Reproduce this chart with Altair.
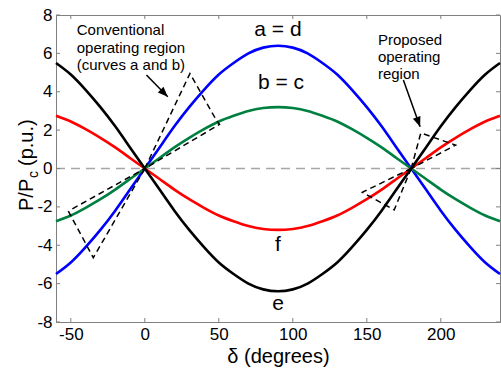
import altair as alt
import pandas as pd

# Load angle (degrees) at which the power curves are sampled
delta = [-60, -50, -40, -30, -20, -10, 0, 10, 20, 30, 40, 50, 60, 70, 80, 90,
         100, 110, 120, 130, 140, 150, 160, 170, 180, 190, 200, 210, 220, 230, 240]

# P/Pc for each curve (p.u.)
curve_ad = [-5.5, -4.9, -4.1, -3.2, -2.2, -1.1, 0.0, 1.1, 2.2, 3.2, 4.1, 4.9, 5.5, 6.0, 6.3, 6.4,
            6.3, 6.0, 5.5, 4.9, 4.1, 3.2, 2.2, 1.1, 0.0, -1.1, -2.2, -3.2, -4.1, -4.9, -5.5]
curve_bc = [-2.75, -2.45, -2.05, -1.6, -1.1, -0.55, 0.0, 0.55, 1.1, 1.6, 2.05, 2.45, 2.75, 3.0, 3.15, 3.2,
            3.15, 3.0, 2.75, 2.45, 2.05, 1.6, 1.1, 0.55, 0.0, -0.55, -1.1, -1.6, -2.05, -2.45, -2.75]
curve_f = [2.75, 2.45, 2.05, 1.6, 1.1, 0.55, 0.0, -0.55, -1.1, -1.6, -2.05, -2.45, -2.75, -3.0, -3.15, -3.2,
           -3.15, -3.0, -2.75, -2.45, -2.05, -1.6, -1.1, -0.55, 0.0, 0.55, 1.1, 1.6, 2.05, 2.45, 2.75]
curve_e = [5.5, 4.9, 4.1, 3.2, 2.2, 1.1, 0.0, -1.1, -2.2, -3.2, -4.1, -4.9, -5.5, -6.0, -6.3, -6.4,
           -6.3, -6.0, -5.5, -4.9, -4.1, -3.2, -2.2, -1.1, 0.0, 1.1, 2.2, 3.2, 4.1, 4.9, 5.5]

series_names = ["a = d", "b = c", "f", "e"]
series_colors = ["#0000ff", "#008040", "#ff0000", "#000000"]

# Dashed operating-region outlines (closed polygons)
conv_up_x = [0, 30.5, 48.5, 50.5, 0]
conv_up_y = [0, 4.95, 2.5, 2.3, 0]
conv_lo_x = [0, -34.8, -51.5, -50.0, 0]
conv_lo_y = [0, -4.65, -2.25, -2.15, 0]
prop_up_x = [180, 186.5, 210, 180]
prop_up_y = [0, 1.85, 1.22, 0]
prop_lo_x = [180, 168.5, 147.0, 180]
prop_lo_y = [0, -2.16, -1.24, 0]

# Annotation text
conv_lines = ["Conventional", "operating region", "(curves a and b)"]
conv_line_y = [7.2, 6.28, 5.38]
prop_lines = ["Proposed", "operating", "region"]
prop_line_y = [6.7, 5.8, 4.92]
curve_labels = ["a = d", "b = c", "f", "e"]
curve_label_x = [90, 92, 90, 90]
curve_label_y = [7.2, 4.45, -4.0, -7.05]

# Arrows: start, tip
arrow_x0 = [1.1, 174.7]
arrow_y0 = [4.87, 4.61]
arrow_x1 = [15.5, 186.0]
arrow_y1 = [3.74, 2.18]
arrow_angle = [135, 160]

x_ticks = [-50, 0, 50, 100, 150, 200]
y_ticks = [-8, -6, -4, -2, 0, 2, 4, 6, 8]

W, H = 444, 307
FONT = "Liberation Sans"
GRAY = "#808080"

rows = []
for name, vals in zip(series_names, [curve_ad, curve_bc, curve_f, curve_e]):
    for d, v in zip(delta, vals):
        rows.append({"delta": d, "p": v, "series": name})
curves_df = pd.DataFrame(rows)

poly_rows = []
for gid, (xs, ys) in enumerate([(conv_up_x, conv_up_y), (conv_lo_x, conv_lo_y),
                                (prop_up_x, prop_up_y), (prop_lo_x, prop_lo_y)]):
    for i, (a, b) in enumerate(zip(xs, ys)):
        poly_rows.append({"delta": a, "p": b, "g": gid, "o": i})
poly_df = pd.DataFrame(poly_rows)

arrow_rows = []
for i in range(len(arrow_x0)):
    arrow_rows.append({"delta": arrow_x0[i], "p": arrow_y0[i], "g": i, "o": 0})
    arrow_rows.append({"delta": arrow_x1[i], "p": arrow_y1[i], "g": i, "o": 1})
arrow_df = pd.DataFrame(arrow_rows)
head_df = pd.DataFrame({"delta": arrow_x1, "p": arrow_y1, "ang": arrow_angle})

text_df = pd.DataFrame(
    [{"delta": -46, "p": y, "t": t} for t, y in zip(conv_lines, conv_line_y)]
    + [{"delta": 157.5, "p": y, "t": t} for t, y in zip(prop_lines, prop_line_y)]
)
label_df = pd.DataFrame({"delta": curve_label_x, "p": curve_label_y, "t": curve_labels})

xscale = alt.Scale(domain=[-60, 240], nice=False, zero=False)
yscale = alt.Scale(domain=[-8, 8], nice=False)

# One shared axis definition used by every layer, so the merged axes agree
x_axis = alt.Axis(values=x_ticks, ticks=False, grid=False, title="δ (degrees)",
                  labelOverlap=False, labelExpr="replace(datum.label, '−', '-')")
y_axis = alt.Axis(values=y_ticks, ticks=False, grid=False, title=None,
                  labelOverlap=False, labelExpr="replace(datum.label, '−', '-')")
x_enc = alt.X("delta:Q", scale=xscale, axis=x_axis)
y_enc = alt.Y("p:Q", scale=yscale, axis=y_axis)

zero_line = alt.Chart(pd.DataFrame({"p": [0]})).mark_rule(
    color="#a6a6a6", strokeWidth=1.5, strokeDash=[9, 6]
).encode(y=y_enc)

lines = alt.Chart(curves_df).mark_line(strokeWidth=2.6, interpolate="natural").encode(
    x=x_enc, y=y_enc,
    color=alt.Color("series:N", scale=alt.Scale(domain=series_names, range=series_colors), legend=None),
    detail="series:N",
)

polys = alt.Chart(poly_df).mark_line(color="black", strokeWidth=1.5, strokeDash=[6, 4]).encode(
    x=x_enc, y=y_enc, detail="g:N", order="o:Q"
)

arrows = alt.Chart(arrow_df).mark_line(color="black", strokeWidth=1.5).encode(
    x=x_enc, y=y_enc, detail="g:N", order="o:Q"
)
heads = alt.Chart(head_df).mark_point(
    shape="M0,0L0.4,1L-0.4,1Z", filled=True, color="black", opacity=1, size=400, strokeWidth=0
).encode(x=x_enc, y=y_enc, angle=alt.Angle("ang:Q", scale=None))

notes = alt.Chart(text_df).mark_text(align="left", baseline="middle", fontSize=15, font=FONT, color="black").encode(
    x=x_enc, y=y_enc, text="t:N"
)
curve_text = alt.Chart(label_df).mark_text(align="center", baseline="middle", fontSize=21, font=FONT, color="black").encode(
    x=x_enc, y=y_enc, text="t:N"
)

# Inward-pointing ticks on all four sides of the frame
xt = pd.DataFrame({"delta": x_ticks})
yt = pd.DataFrame({"p": y_ticks})
tick_style = dict(color=GRAY, strokeWidth=1)
ticks_bottom = alt.Chart(xt).mark_rule(**tick_style).encode(
    x=x_enc, y=alt.value(H), y2=alt.value(H - 4))
ticks_top = alt.Chart(xt).mark_rule(**tick_style).encode(
    x=x_enc, y=alt.value(0), y2=alt.value(4))
ticks_left = alt.Chart(yt).mark_rule(**tick_style).encode(
    y=y_enc, x=alt.value(0), x2=alt.value(4))
ticks_right = alt.Chart(yt).mark_rule(**tick_style).encode(
    y=y_enc, x=alt.value(W), x2=alt.value(W - 4))

# Y-axis title with subscript, drawn as rotated text pieces
ytitle_main = alt.Chart(pd.DataFrame({"t": ["P/P"]})).mark_text(
    angle=270, align="left", baseline="alphabetic", fontSize=20, font=FONT, color="black"
).encode(x=alt.value(-23), y=alt.value(196), text="t:N")
ytitle_sub = alt.Chart(pd.DataFrame({"t": ["c"]})).mark_text(
    angle=270, align="left", baseline="alphabetic", fontSize=14, font=FONT, color="black"
).encode(x=alt.value(-18), y=alt.value(163), text="t:N")
ytitle_unit = alt.Chart(pd.DataFrame({"t": ["(p.u.)"]})).mark_text(
    angle=270, align="left", baseline="alphabetic", fontSize=20, font=FONT, color="black"
).encode(x=alt.value(-23), y=alt.value(151), text="t:N")

chart = alt.layer(
    zero_line, lines, polys, arrows, heads, notes, curve_text,
    ticks_bottom, ticks_top, ticks_left, ticks_right,
    ytitle_main, ytitle_sub, ytitle_unit,
).properties(
    width=W, height=H,
    autosize=alt.AutoSizeParams(type="none"),
    padding={"left": 56, "top": 15, "right": 1, "bottom": 46},
).configure(font=FONT).configure_view(
    stroke=GRAY, strokeWidth=1
).configure_axis(
    domainColor=GRAY, labelFontSize=17, labelColor="black", labelFont=FONT,
    titleFontSize=20, titleFont=FONT, titleFontWeight="normal", titleColor="black",
    labelPadding=4, titlePadding=4,
)

chart.save("out.html", embed_options={"renderer": "svg", "actions": False})
